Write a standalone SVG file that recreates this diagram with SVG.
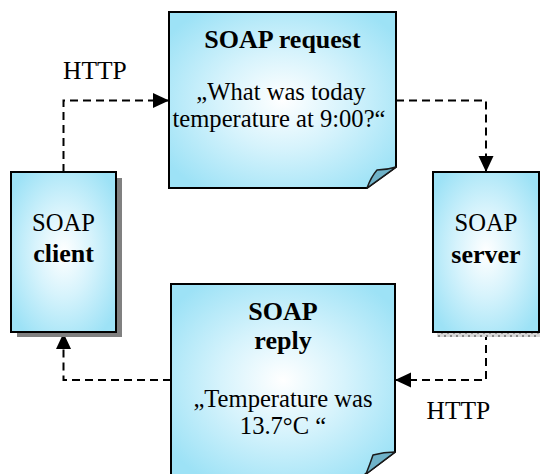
<svg xmlns="http://www.w3.org/2000/svg" width="540" height="474" viewBox="0 0 540 474" font-family="'Liberation Serif', 'DejaVu Serif', 'Times New Roman', serif">
  <style>
    .box { stroke: #000; stroke-width: 2; }
    .flap { fill: #6fb2c8; stroke: #1a1a1a; stroke-width: 1.5; stroke-linejoin: round; }
    .link { fill: none; stroke: #000; stroke-width: 2; stroke-dasharray: 8 5; }
    .t { font-size: 24.6px; text-anchor: middle; }
    .b { font-size: 26px; font-weight: bold; text-anchor: middle; }
    .lbl { font-size: 25.5px; }
  </style>
  <defs>
    <radialGradient id="glow" cx="0.5" cy="0.5" r="0.62">
      <stop offset="0" stop-color="#ffffff"/>
      <stop offset="0.45" stop-color="#d6f3fc"/>
      <stop offset="1" stop-color="#9de2f6"/>
    </radialGradient>
    <pattern id="grain" width="6" height="5" patternUnits="userSpaceOnUse">
      <rect width="6" height="5" fill="#d8d8d8"/>
      <rect x="0" y="0" width="2" height="2" fill="#8a8a8a"/>
      <rect x="3" y="2" width="2" height="2" fill="#9a9a9a"/>
    </pattern>
    <marker id="head" markerUnits="userSpaceOnUse" markerWidth="16" markerHeight="16" viewBox="0 0 16 16" refX="16" refY="8" orient="auto">
      <path d="M0,0.5 L16,8 L0,15.5 Z" fill="#000"/>
    </marker>
  </defs>

  <!-- connectors -->
  <g id="connectors">
    <path class="link" d="M63.5,172 V100.5 H169" marker-end="url(#head)"/>
    <path class="link" d="M396,100.5 H486 V172" marker-end="url(#head)"/>
    <path class="link" d="M486,332 V380 H395" marker-end="url(#head)"/>
    <path class="link" d="M171,380 H63.5 V333" marker-end="url(#head)"/>
    <text class="lbl" x="63" y="79">HTTP</text>
    <text class="lbl" x="426.5" y="419">HTTP</text>
  </g>

  <!-- client -->
  <g id="client">
    <rect x="17" y="178" width="105" height="159" fill="#808080"/>
    <rect class="box" x="11" y="172" width="105" height="160" fill="url(#glow)"/>
    <text class="t" x="63.5" y="231">SOAP</text>
    <text class="b" x="63.5" y="262">client</text>
  </g>

  <!-- server -->
  <g id="server">
    <rect x="437" y="333" width="103" height="4" fill="url(#grain)"/>
    <rect class="box" x="433" y="172" width="106" height="160" fill="url(#glow)"/>
    <text class="t" x="486" y="231">SOAP</text>
    <text class="b" x="486" y="262.5">server</text>
  </g>

  <!-- request note -->
  <g id="request">
    <path class="box" d="M169,12 H396 V167 L367,188 H169 Z" fill="url(#glow)"/>
    <path class="flap" d="M367,188 Q371,177 377,170 Q387,170 396,167 Z"/>
    <text class="b" x="282.5" y="48">SOAP request</text>
    <text class="t" x="281" y="100">„What was today</text>
    <text class="t" x="279" y="127">temperature at 9:00?“</text>
  </g>

  <!-- reply note -->
  <g id="reply">
    <path class="box" d="M171,284 H395 V452 L363,476 H171 Z" fill="url(#glow)"/>
    <path class="flap" d="M395,452 Q384,452 373,455 Q370,464 366,474 Z"/>
    <text class="b" x="283" y="320">SOAP</text>
    <text class="b" x="283" y="349">reply</text>
    <text class="t" x="283" y="406.5">„Temperature was</text>
    <text class="t" x="283" y="434">13.7°C “</text>
  </g>
</svg>
